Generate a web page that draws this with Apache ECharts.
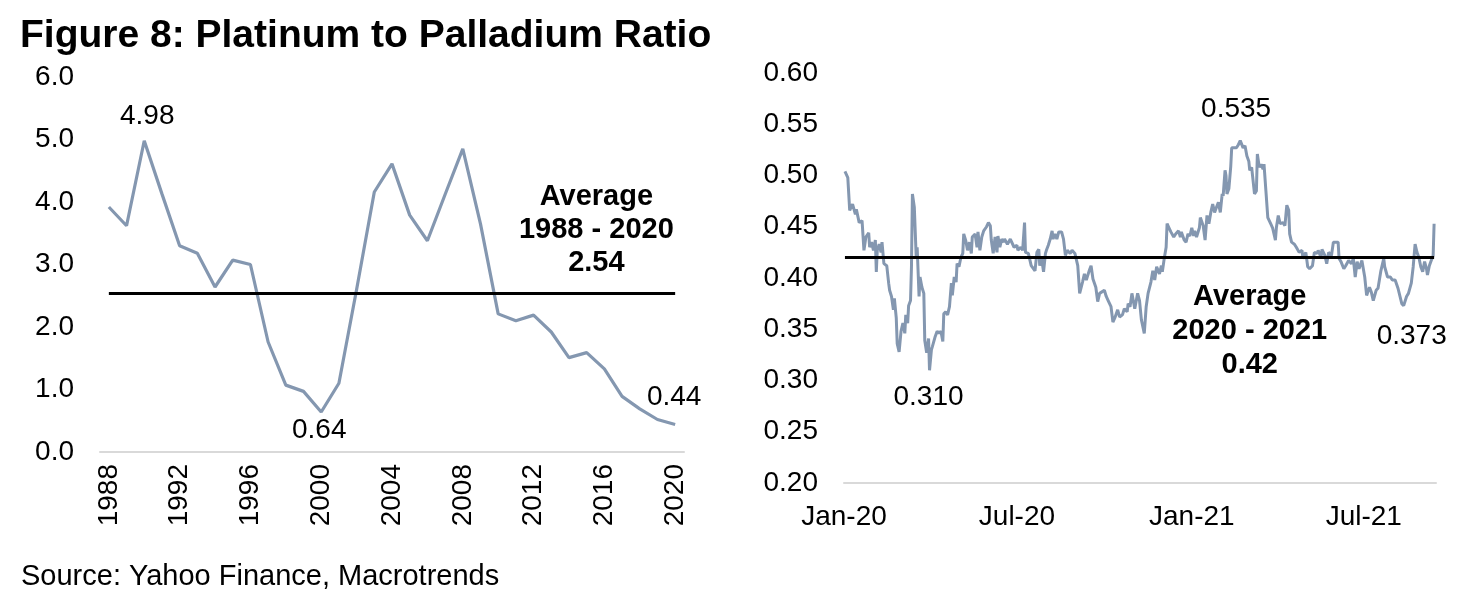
<!DOCTYPE html>
<html>
<head>
<meta charset="utf-8">
<script src="https://cdn.jsdelivr.net/npm/echarts@6/dist/echarts.min.js"></script>
<style>
html,body{margin:0;padding:0;background:#fff;}
#chart{width:1482px;height:610px;}
</style>
</head>
<body>
<div id="chart"></div>
<script>
// ---------- DATA ----------
const leftYears = ['1988','1989','1990','1991','1992','1993','1994','1995','1996','1997','1998','1999','2000','2001','2002','2003','2004','2005','2006','2007','2008','2009','2010','2011','2012','2013','2014','2015','2016','2017','2018','2019','2020'];
const leftValues = [3.92,3.62,4.98,4.13,3.30,3.18,2.64,3.07,3.00,1.76,1.07,0.97,0.64,1.10,2.60,4.16,4.61,3.79,3.38,4.12,4.85,3.65,2.21,2.10,2.19,1.92,1.51,1.59,1.33,0.89,0.69,0.52,0.44];
const leftAverage = 2.54;
const leftAvgPeriod = '1988 - 2020';
const leftNotedYears = ['1990','2000','2020'];

const rightDates = [
'2020-01-02','2020-01-05','2020-01-07','2020-01-10','2020-01-13','2020-01-14','2020-01-17','2020-01-20','2020-01-22','2020-01-24',
'2020-01-27','2020-01-28','2020-01-30','2020-02-01','2020-02-03','2020-02-04','2020-02-05','2020-02-07','2020-02-09','2020-02-10',
'2020-02-12','2020-02-15','2020-02-17','2020-02-18','2020-02-20','2020-02-22','2020-02-23','2020-02-25','2020-02-26','2020-02-28',
'2020-03-01','2020-03-03','2020-03-05','2020-03-06','2020-03-08','2020-03-09','2020-03-11','2020-03-12','2020-03-13','2020-03-15',
'2020-03-17','2020-03-18','2020-03-20','2020-03-21','2020-03-23','2020-03-25','2020-03-26','2020-03-28','2020-03-30','2020-03-31',
'2020-04-02','2020-04-03','2020-04-06','2020-04-08','2020-04-10','2020-04-12','2020-04-14','2020-04-15','2020-04-17','2020-04-19',
'2020-04-21','2020-04-23','2020-04-24','2020-04-26','2020-04-28','2020-04-29','2020-05-01','2020-05-03','2020-05-05','2020-05-06',
'2020-05-08','2020-05-10','2020-05-12','2020-05-14','2020-05-15','2020-05-18','2020-05-20','2020-05-21','2020-05-23','2020-05-25',
'2020-05-27','2020-05-30','2020-06-01','2020-06-03','2020-06-04','2020-06-06','2020-06-08','2020-06-10','2020-06-11','2020-06-13',
'2020-06-15','2020-06-17','2020-06-18','2020-06-21','2020-06-24','2020-06-26','2020-06-28','2020-07-01','2020-07-02','2020-07-05',
'2020-07-07','2020-07-09','2020-07-10','2020-07-13','2020-07-16','2020-07-18','2020-07-20','2020-07-22','2020-07-24','2020-07-25',
'2020-07-27','2020-07-29','2020-07-31','2020-08-01','2020-08-03','2020-08-05','2020-08-07','2020-08-08','2020-08-10','2020-08-12',
'2020-08-14','2020-08-17','2020-08-19','2020-08-21','2020-08-23','2020-08-26','2020-08-28','2020-08-31','2020-09-03','2020-09-05',
'2020-09-08','2020-09-10','2020-09-12','2020-09-15','2020-09-17','2020-09-19','2020-09-22','2020-09-24','2020-09-26','2020-09-28',
'2020-10-01','2020-10-03','2020-10-05','2020-10-08','2020-10-10','2020-10-12','2020-10-15','2020-10-17','2020-10-20','2020-10-22',
'2020-10-25','2020-10-26','2020-10-28','2020-10-30','2020-11-01','2020-11-02','2020-11-05','2020-11-07','2020-11-09','2020-11-12',
'2020-11-14','2020-11-16','2020-11-19','2020-11-21','2020-11-23','2020-11-25','2020-11-28','2020-11-30','2020-12-01','2020-12-03',
'2020-12-05','2020-12-06','2020-12-08','2020-12-10','2020-12-13','2020-12-15','2020-12-18','2020-12-20','2020-12-21','2020-12-24',
'2020-12-26','2020-12-28','2020-12-30','2021-01-01','2021-01-03','2021-01-04','2021-01-06','2021-01-09','2021-01-10','2021-01-13',
'2021-01-15','2021-01-17','2021-01-19','2021-01-21','2021-01-23','2021-01-25','2021-01-27','2021-01-29','2021-01-31','2021-02-02',
'2021-02-03','2021-02-05','2021-02-06','2021-02-07','2021-02-09','2021-02-11','2021-02-12','2021-02-14','2021-02-17','2021-02-19',
'2021-02-21','2021-02-23','2021-02-24','2021-02-26','2021-02-28','2021-03-02','2021-03-03','2021-03-05','2021-03-08','2021-03-10',
'2021-03-11','2021-03-13','2021-03-15','2021-03-17','2021-03-18','2021-03-20','2021-03-22','2021-03-24','2021-03-25','2021-03-27',
'2021-03-29','2021-03-30','2021-03-31','2021-04-02','2021-04-04','2021-04-07','2021-04-09','2021-04-11','2021-04-13','2021-04-14',
'2021-04-16','2021-04-19','2021-04-21','2021-04-24','2021-04-27','2021-04-28','2021-05-01','2021-05-03','2021-05-05','2021-05-08',
'2021-05-10','2021-05-13','2021-05-14','2021-05-17','2021-05-18','2021-05-21','2021-05-23','2021-05-25','2021-05-28','2021-05-30',
'2021-06-01','2021-06-04','2021-06-05','2021-06-07','2021-06-10','2021-06-12','2021-06-15','2021-06-18','2021-06-20','2021-06-22',
'2021-06-24','2021-06-26','2021-06-29','2021-07-02','2021-07-04','2021-07-07','2021-07-09','2021-07-11','2021-07-14','2021-07-16',
'2021-07-19','2021-07-22','2021-07-23','2021-07-26','2021-07-29','2021-07-31','2021-08-03','2021-08-06','2021-08-08','2021-08-10',
'2021-08-12','2021-08-15','2021-08-17','2021-08-20','2021-08-22','2021-08-24','2021-08-26','2021-08-28','2021-08-30','2021-09-01',
'2021-09-03','2021-09-05','2021-09-06','2021-09-08','2021-09-10','2021-09-12','2021-09-13'
];
const rightValues = [
0.504,0.498,0.466,0.472,0.462,0.467,0.454,0.456,0.427,0.440,
0.444,0.430,0.435,0.427,0.437,0.406,0.427,0.433,0.425,0.435,
0.414,0.412,0.395,0.388,0.382,0.369,0.380,0.361,0.336,0.328,
0.348,0.356,0.346,0.364,0.356,0.373,0.378,0.411,0.482,0.469,
0.420,0.430,0.382,0.401,0.391,0.385,0.339,0.327,0.341,0.310,
0.330,0.333,0.343,0.348,0.346,0.348,0.338,0.365,0.367,0.364,
0.372,0.395,0.383,0.401,0.396,0.414,0.411,0.420,0.424,0.443,
0.437,0.427,0.435,0.424,0.440,0.443,0.430,0.445,0.427,0.440,
0.446,0.450,0.454,0.451,0.437,0.424,0.440,0.425,0.441,0.430,
0.438,0.435,0.438,0.433,0.438,0.437,0.430,0.432,0.427,0.430,
0.427,0.454,0.425,0.424,0.412,0.411,0.407,0.425,0.428,0.412,
0.419,0.406,0.424,0.427,0.432,0.438,0.446,0.438,0.443,0.438,
0.445,0.445,0.438,0.422,0.427,0.424,0.427,0.424,0.412,0.385,
0.396,0.404,0.398,0.407,0.412,0.399,0.391,0.377,0.385,0.385,
0.388,0.382,0.378,0.372,0.357,0.361,0.369,0.362,0.364,0.370,
0.367,0.375,0.372,0.385,0.386,0.370,0.385,0.378,0.359,0.346,
0.372,0.385,0.396,0.407,0.398,0.411,0.404,0.412,0.406,0.419,
0.430,0.453,0.449,0.445,0.440,0.443,0.446,0.440,0.445,0.437,
0.435,0.443,0.441,0.449,0.441,0.446,0.440,0.449,0.459,0.451,
0.437,0.461,0.453,0.464,0.472,0.464,0.469,0.474,0.464,0.482,
0.480,0.505,0.500,0.482,0.487,0.509,0.527,0.526,0.527,0.530,
0.534,0.535,0.527,0.529,0.519,0.514,0.505,0.508,0.482,0.485,
0.521,0.508,0.511,0.506,0.511,0.485,0.459,0.458,0.453,0.449,
0.441,0.437,0.449,0.461,0.453,0.454,0.451,0.471,0.466,0.443,
0.435,0.433,0.430,0.425,0.427,0.419,0.425,0.411,0.409,0.412,
0.425,0.424,0.427,0.420,0.428,0.422,0.414,0.425,0.422,0.435,
0.435,0.435,0.419,0.416,0.409,0.412,0.417,0.414,0.419,0.401,
0.416,0.409,0.417,0.401,0.383,0.391,0.386,0.378,0.388,0.390,
0.407,0.419,0.411,0.401,0.401,0.398,0.398,0.390,0.391,0.375,
0.373,0.382,0.385,0.395,0.411,0.433,0.425,0.420,0.411,0.406,
0.416,0.409,0.403,0.412,0.417,0.422,0.453
];
const rightAverage = 0.42;
const rightAvgPeriod = '2020 - 2021';
const rightNotedDates = ['2020-03-31','2021-02-23','2021-08-12'];
const rightAxisStart = '2020-01-01';
const rightAxisEnd = '2021-09-15';
const rightAvgTextDate = '2021-03-03';
const monthNames = ['Jan','Feb','Mar','Apr','May','Jun','Jul','Aug','Sep','Oct','Nov','Dec'];
const rightLabelMonths = [0, 6];

// ---------- HELPERS ----------
function ts(s){ const p = s.split('-').map(Number); return new Date(p[0], p[1]-1, p[2]).getTime(); }
const FONT = '"Liberation Sans", Arial, Helvetica, sans-serif';
const LINE_COLOR = '#8497B0';
const AXIS_COLOR = '#D9D9D9';

const leftLabelStyle = {
  '1990': {position:'top', distance:10, offset:[3,0]},
  '2000': {position:'bottom', distance:4, offset:[-2,0]},
  '2020': {position:'top', distance:13, offset:[-1,0]}
};
const leftData = leftValues.map((v,i)=>{
  const y = leftYears[i];
  const item = {value:v};
  if (leftNotedYears.indexOf(y) >= 0) {
    item.label = Object.assign({show:true, formatter: v.toFixed(2), fontSize:28, color:'#000', fontFamily:FONT}, leftLabelStyle[y]);
  }
  return item;
});

const rightLabelStyle = [
  {position:'bottom', distance:13, offset:[-1,0]},
  {position:'top', distance:16, offset:[-6,0]},
  {position:'bottom', distance:17, offset:[8,0]}
];
const rightData = rightDates.map((d,i)=>{
  const v = rightValues[i];
  const item = {value:[ts(d), v]};
  const k = rightNotedDates.indexOf(d);
  if (k >= 0) {
    item.label = Object.assign({show:true, formatter: v.toFixed(3), fontSize:28, color:'#000', fontFamily:FONT}, rightLabelStyle[k]);
  }
  return item;
});

const avgLabel = {
  show:true, fontFamily:FONT, fontSize:29, fontWeight:'bold', color:'#000', align:'center'
};

const chart = echarts.init(document.getElementById('chart'), null, {renderer:'canvas'});
chart.setOption({
  animation:false,
  backgroundColor:'#fff',
  textStyle:{fontFamily:FONT},
  title:[
    {text:'Figure 8: Platinum to Palladium Ratio', left:15, top:12,
     textStyle:{fontFamily:FONT, fontSize:39, fontWeight:'bold', color:'#000'}},
    {text:'Source: Yahoo Finance, Macrotrends', left:16, top:557,
     textStyle:{fontFamily:FONT, fontSize:29, fontWeight:'normal', color:'#000'}}
  ],
  grid:[
    {left:100, top:77, width:584, height:375},
    {left:844, top:73, width:592, height:410}
  ],
  xAxis:[
    {type:'category', gridIndex:0, data:leftYears, boundaryGap:true,
     axisLine:{show:true, lineStyle:{color:AXIS_COLOR, width:2}},
     axisTick:{show:false}, splitLine:{show:false},
     axisLabel:{interval:3, rotate:90, fontSize:28, color:'#000', margin:12, fontFamily:FONT}},
    {type:'time', gridIndex:1, min:ts(rightAxisStart), max:ts(rightAxisEnd),
     axisLine:{show:true, lineStyle:{color:AXIS_COLOR, width:2}},
     axisTick:{show:false}, splitLine:{show:false},
     axisLabel:{fontSize:28, color:'#000', margin:20, fontFamily:FONT,
       showMinLabel:true, showMaxLabel:false,
       formatter:function(val){
         const d = new Date(val);
         if (d.getDate() === 1 && rightLabelMonths.indexOf(d.getMonth()) >= 0 && d.getHours() === 0) {
           return monthNames[d.getMonth()] + '-' + String(d.getFullYear()).slice(2);
         }
         return '';
       }}}
  ],
  yAxis:[
    {type:'value', gridIndex:0, min:0, max:6, interval:1,
     axisLine:{show:false}, axisTick:{show:false}, splitLine:{show:false},
     axisLabel:{formatter:v=>v.toFixed(1), fontSize:28, color:'#000', margin:26, fontFamily:FONT}},
    {type:'value', gridIndex:1, min:0.2, max:0.6, interval:0.05,
     axisLine:{show:false}, axisTick:{show:false}, splitLine:{show:false},
     axisLabel:{formatter:v=>v.toFixed(2), fontSize:28, color:'#000', margin:26, fontFamily:FONT}}
  ],
  series:[
    {type:'line', xAxisIndex:0, yAxisIndex:0, data:leftData,
     symbol:'circle', symbolSize:0, showSymbol:true, showAllSymbol:true,
     lineStyle:{color:LINE_COLOR, width:3.2}, itemStyle:{color:LINE_COLOR},
     label:{show:false}, silent:true, z:3,
     markLine:{silent:true, symbol:'none', label:{show:false},
       lineStyle:{color:'#000', width:3.2, type:'solid'},
       data:[[{coord:[leftYears[0], leftAverage]},{coord:[leftYears[leftYears.length-1], leftAverage]}]]},
     markPoint:{silent:true, symbol:'circle', symbolSize:1, itemStyle:{color:'rgba(0,0,0,0)'},
       data:[{coord:['2016', leftAverage],
         label:Object.assign({}, avgLabel, {position:'top', distance:13, offset:[-8,0], lineHeight:33,
           formatter:'Average\n' + leftAvgPeriod + '\n' + leftAverage.toFixed(2)})}]}
    },
    {type:'line', xAxisIndex:1, yAxisIndex:1, data:rightData,
     symbol:'circle', symbolSize:0, showSymbol:true, showAllSymbol:true,
     lineStyle:{color:LINE_COLOR, width:3}, itemStyle:{color:LINE_COLOR},
     label:{show:false}, silent:true, z:3,
     markLine:{silent:true, symbol:'none', label:{show:false},
       lineStyle:{color:'#000', width:3.2, type:'solid'},
       data:[[{coord:[ts(rightDates[0]), rightAverage]},{coord:[ts(rightDates[rightDates.length-1]), rightAverage]}]]},
     markPoint:{silent:true, symbol:'circle', symbolSize:1, itemStyle:{color:'rgba(0,0,0,0)'},
       data:[{coord:[ts(rightAvgTextDate), rightAverage],
         label:Object.assign({}, avgLabel, {position:'bottom', distance:22, lineHeight:34,
           formatter:'Average\n' + rightAvgPeriod + '\n' + rightAverage.toFixed(2)})}]}
    }
  ]
});
</script>
</body>
</html>
